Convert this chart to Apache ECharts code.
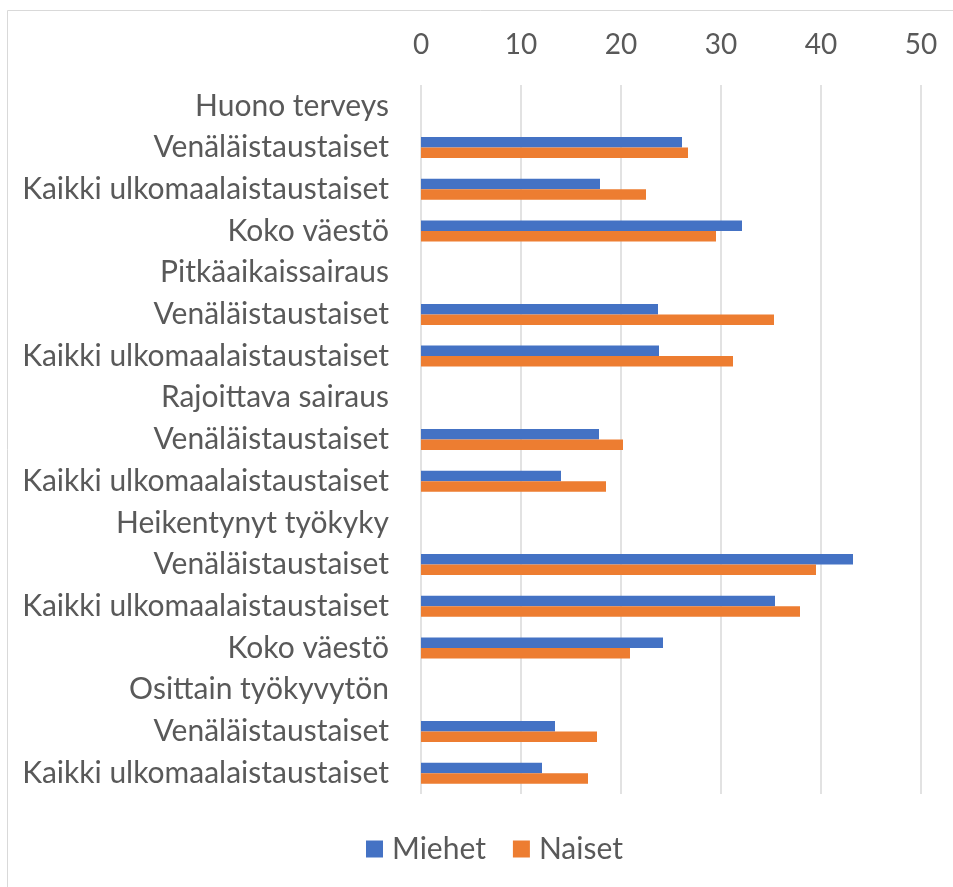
<!DOCTYPE html>
<html><head><meta charset="utf-8">
<script src="https://cdn.jsdelivr.net/npm/echarts@6/dist/echarts.min.js"></script>
<style>html,body{margin:0;padding:0;background:#fff;}#c{width:953px;height:887px;}</style>
</head><body><div id="c"></div>
<script>
const categories = [
  "Huono terveys","Venäläistaustaiset","Kaikki ulkomaalaistaustaiset","Koko väestö",
  "Pitkäaikaissairaus","Venäläistaustaiset","Kaikki ulkomaalaistaustaiset",
  "Rajoittava sairaus","Venäläistaustaiset","Kaikki ulkomaalaistaustaiset",
  "Heikentynyt työkyky","Venäläistaustaiset","Kaikki ulkomaalaistaustaiset","Koko väestö",
  "Osittain työkyvytön","Venäläistaustaiset","Kaikki ulkomaalaistaustaiset"
];
const miehet = [null,26.1,17.9,32.1, null,23.7,23.8, null,17.8,14.0, null,43.2,35.4,24.2, null,13.4,12.1];
const naiset = [null,26.7,22.5,29.5, null,35.3,31.2, null,20.2,18.5, null,39.5,37.9,20.9, null,17.6,16.7];
const seriesNames = ["Miehet","Naiset"];
const xTicks = {min:0, max:50, interval:10};

const chart = echarts.init(document.getElementById('c'));
const font = 'Lato, "Open Sans", sans-serif';
chart.setOption({
  animation:false,
  textStyle:{fontFamily:font},
  graphic:[{type:'rect', shape:{x:7.5,y:10.5,width:1200,height:1200}, style:{fill:'none',stroke:'#d9d9d9',lineWidth:1}, silent:true}],
  grid:{left:421, right:32, top:85, bottom:93, containLabel:false},
  legend:{bottom:18, left:361, itemWidth:17, itemHeight:17, itemGap:27, icon:'rect',
    textStyle:{fontSize:30, color:'#595959', fontFamily:font, padding:[0,0,0,4]}, data:seriesNames},
  xAxis:{type:'value', position:'top', min:xTicks.min, max:xTicks.max, interval:xTicks.interval,
    axisLine:{show:false}, axisTick:{show:false},
    axisLabel:{fontSize:28, color:'#595959', margin:26},
    splitLine:{lineStyle:{color:'#d9d9d9', width:1.5}}},
  yAxis:{type:'category', data:categories, inverse:true,
    axisLine:{show:false}, axisTick:{show:false},
    axisLabel:{fontSize:30, color:'#595959', margin:32}},
  series:[
    {name:seriesNames[0], type:'bar', data:miehet, barWidth:10.5, barGap:'0%', itemStyle:{color:'#4472C4'}},
    {name:seriesNames[1], type:'bar', data:naiset, barWidth:10.5, barGap:'0%', itemStyle:{color:'#ED7D31'}}
  ]
});
</script></body></html>
